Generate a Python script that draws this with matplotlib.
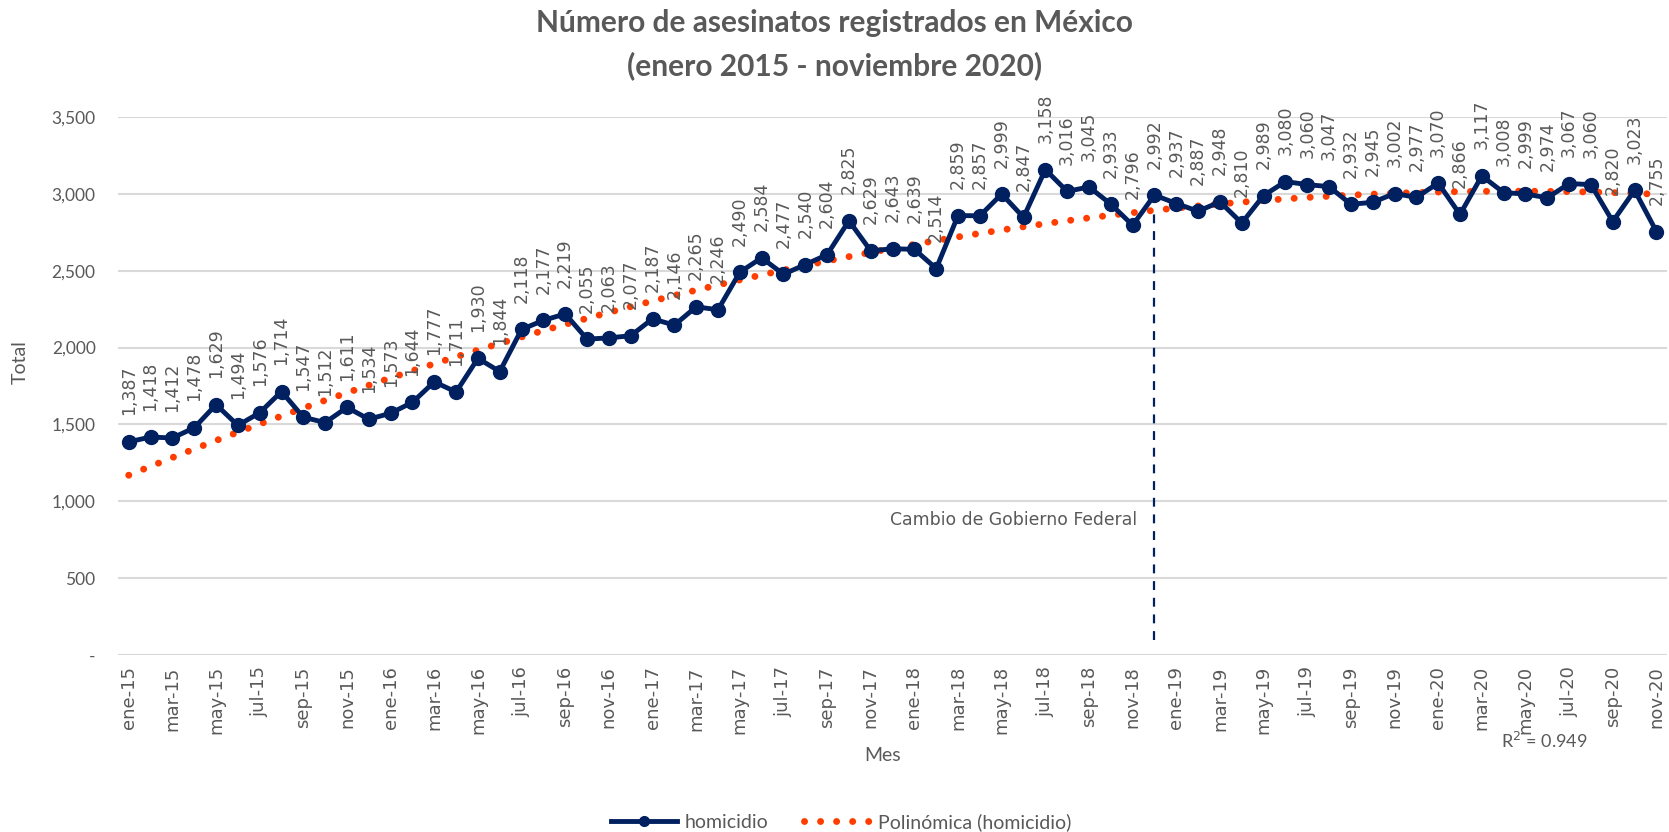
import numpy as np
import matplotlib
matplotlib.use("Agg")
import matplotlib.pyplot as plt
from matplotlib.lines import Line2D
from matplotlib.ticker import FuncFormatter, MultipleLocator

months_es = ["ene", "feb", "mar", "abr", "may", "jun", "jul", "ago", "sep", "oct", "nov", "dic"]
years = ["15", "16", "17", "18", "19", "20"]
categories = [f"{m}-{y}" for y in years for m in months_es][:71]

homicidio = [
    1387, 1418, 1412, 1478, 1629, 1494, 1576, 1714, 1547, 1512, 1611, 1534,
    1573, 1644, 1777, 1711, 1930, 1844, 2118, 2177, 2219, 2055, 2063, 2077,
    2187, 2146, 2265, 2246, 2490, 2584, 2477, 2540, 2604, 2825, 2629, 2643,
    2639, 2514, 2859, 2857, 2999, 2847, 3158, 3016, 3045, 2933, 2796, 2992,
    2937, 2887, 2948, 2810, 2989, 3080, 3060, 3047, 2932, 2945, 3002, 2977,
    3070, 2866, 3117, 3008, 2999, 2974, 3067, 3060, 2820, 3023, 2755,
]

title_1 = "Número de asesinatos registrados en México"
title_2 = "(enero 2015 - noviembre 2020)"
cambio_label = "Cambio de Gobierno Federal"
cambio_mes = "dic-18"
cambio_rango = (100, 2900)
r2_text = "R$^2$ = 0.949"

NAVY = "#002060"
TREND = "#FF3D00"
GRAY = "#595959"
GRID = "#D9D9D9"

fig = plt.figure(figsize=(16.69, 8.32), dpi=100)
ax = fig.add_axes([0.0706, 0.2127, 0.9284, 0.6467])

x = np.arange(len(categories))
y = np.array(homicidio, dtype=float)

# polynomial trend line (order 2)
coef = np.polyfit(x, y, 2)
trend = np.polyval(coef, x)

trend_style = dict(color=TREND, lw=5, linestyle=(0, (0.01, 2.3)),
                   dash_capstyle="round", solid_capstyle="round")
ax.plot(x, trend, zorder=2, **trend_style)
ax.plot(x, y, color=NAVY, lw=3.5, marker="o", markersize=10, zorder=3)

for xi, yi in zip(x, homicidio):
    ax.annotate(f"{yi:,}", (xi, yi), xytext=(0, 19), textcoords="offset points",
                rotation=90, ha="center", va="bottom", fontsize=12.5,
                color=GRAY, family="DejaVu Sans", zorder=4)

xc = categories.index(cambio_mes)
ax.vlines(xc, cambio_rango[0], cambio_rango[1], colors=NAVY, lw=1.6,
          linestyles=(0, (4, 3.5)), zorder=2)
ax.text(xc - 0.8, 880, cambio_label, ha="right", va="center", fontsize=12.4,
        color=GRAY, family="DejaVu Sans")

ax.set_xlim(-0.5, len(categories) - 0.5)
ax.set_ylim(0, 3500)
ax.yaxis.set_major_locator(MultipleLocator(500))
ax.yaxis.set_major_formatter(FuncFormatter(lambda v, p: "-" if v == 0 else f"{int(v):,}"))
ax.set_xticks(x[::2])
ax.set_xticklabels(categories[::2], rotation=90, fontsize=13, color=GRAY,
                   family="DejaVu Sans")
for lab in ax.get_yticklabels():
    lab.set_fontsize(12.5)
    lab.set_color(GRAY)
    lab.set_family("Lato")
ax.tick_params(axis="both", length=0)
ax.tick_params(axis="y", pad=16)
ax.tick_params(axis="x", pad=8)
ax.grid(axis="y", color=GRID, lw=1.5)
ax.set_axisbelow(True)
for s in ax.spines.values():
    s.set_visible(False)

fig.text(0.529, 0.0925, "Mes", ha="center", va="center", fontsize=14,
         color=GRAY, family="Lato")
fig.text(0.012, 0.565, "Total", rotation=90, ha="center", va="center",
         fontsize=14, color=GRAY, family="Lato")

fig.text(0.5, 0.972, title_1, ha="center", va="center", fontsize=21.5,
         fontweight="bold", color=GRAY, family="Lato")
fig.text(0.5, 0.921, title_2, ha="center", va="center", fontsize=21.5,
         fontweight="bold", color=GRAY, family="Lato")

fig.text(0.925, 0.11, r2_text, ha="center", va="center", fontsize=13,
         color=GRAY, family="Lato")

handles = [
    Line2D([], [], color=NAVY, lw=3.5, marker="o", markersize=7),
    Line2D([], [], **trend_style),
]
labels = ["homicidio", "Polinómica (homicidio)"]
leg = fig.legend(handles, labels, loc="lower center", bbox_to_anchor=(0.504, -0.02),
                 ncol=2, frameon=False, fontsize=14, handlelength=3.4,
                 columnspacing=1.8, handletextpad=0.4)
for t in leg.get_texts():
    t.set_color(GRAY)
    t.set_family("Lato")

fig.savefig("out.png", dpi=100)
